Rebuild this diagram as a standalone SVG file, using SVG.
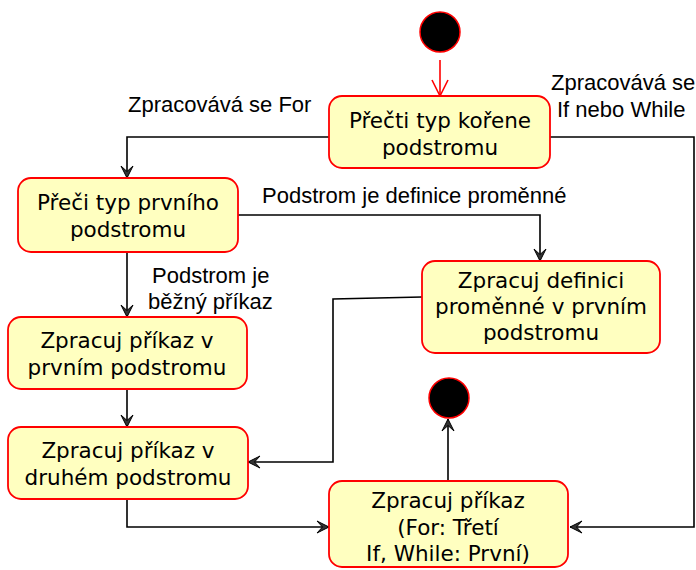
<svg xmlns="http://www.w3.org/2000/svg" width="696" height="570" viewBox="0 0 696 570">
  <style>
    .node rect { fill: #ffffc0; stroke: #ff0000; stroke-width: 1.8; }
    .node text { font-family: "DejaVu Sans", Verdana, sans-serif; font-size: 21.5px; fill: #000; text-anchor: middle; dominant-baseline: central; }
    .dot { fill: #000; stroke: #ff0000; stroke-width: 1.5; }
    .edge { fill: none; stroke: #000; stroke-width: 1.6; }
    .lbl { font-family: "Liberation Sans", Arial, sans-serif; font-size: 22px; fill: #000; dominant-baseline: central; }
  </style>
  <defs>
    <marker id="arr" markerWidth="14" markerHeight="14" viewBox="-13 -7 14 14" refX="0" refY="0" orient="auto" markerUnits="userSpaceOnUse">
      <path d="M0,0 L-12,-6 L-6.5,0 L-12,6 Z" fill="#333" stroke="#000" stroke-width="1" stroke-linejoin="miter"/>
    </marker>
    <marker id="arrRed" markerWidth="20" markerHeight="20" viewBox="-18 -10 20 20" refX="0" refY="0" orient="auto" markerUnits="userSpaceOnUse">
      <path d="M-16,-8 L0,0 L-16,8" fill="none" stroke="#ff0000" stroke-width="1.6"/>
    </marker>
  </defs>

  <!-- connectors -->
  <g id="edges">
    <line x1="440" y1="60" x2="440" y2="96" stroke="#ff0000" stroke-width="1.6" marker-end="url(#arrRed)"/>
    <polyline class="edge" points="329,137 127,137 127,178" marker-end="url(#arr)"/>
    <polyline class="edge" points="550,137 694,137 694,527 570,527" marker-end="url(#arr)"/>
    <polyline class="edge" points="238,215 540,215 540,261" marker-end="url(#arr)"/>
    <line class="edge" x1="127" y1="252" x2="127" y2="317" marker-end="url(#arr)"/>
    <polyline class="edge" points="422,297 333,299 333,462 248,462" marker-end="url(#arr)"/>
    <line class="edge" x1="127" y1="389" x2="127" y2="427" marker-end="url(#arr)"/>
    <polyline class="edge" points="127,499 127,527 329,527" marker-end="url(#arr)"/>
    <line class="edge" x1="448" y1="481" x2="448" y2="419" marker-end="url(#arr)"/>
    <text class="lbl" x="128" y="104">Zpracovává se For</text>
    <text class="lbl" x="551" y="82">Zpracovává se</text>
    <text class="lbl" x="557" y="109">If nebo While</text>
    <text class="lbl" x="262" y="195">Podstrom je definice proměnné</text>
    <text class="lbl" x="152" y="275">Podstrom je</text>
    <text class="lbl" x="148" y="301">běžný příkaz</text>
  </g>

  <g id="start">
    <circle class="dot" cx="440" cy="32" r="20"/>
  </g>

  <g id="readRoot" class="node">
    <rect x="329" y="96" width="221" height="72" rx="13"/>
    <text x="440" y="120">Přečti typ kořene</text>
    <text x="440" y="147">podstromu</text>
  </g>

  <g id="readFirst" class="node">
    <rect x="18" y="178" width="220" height="74" rx="13"/>
    <text x="128" y="202">Přeči typ prvního</text>
    <text x="128" y="229">podstromu</text>
  </g>

  <g id="varDef" class="node">
    <rect x="422" y="261" width="238" height="92" rx="13"/>
    <text x="541" y="280">Zpracuj definici</text>
    <text x="541" y="306">proměnné v prvním</text>
    <text x="541" y="332">podstromu</text>
  </g>

  <g id="cmdFirst" class="node">
    <rect x="8" y="317" width="239" height="72" rx="13"/>
    <text x="127" y="340">Zpracuj příkaz v</text>
    <text x="127" y="367">prvním podstromu</text>
  </g>

  <g id="cmdSecond" class="node">
    <rect x="8" y="427" width="240" height="72" rx="13"/>
    <text x="128" y="450">Zpracuj příkaz v</text>
    <text x="128" y="477">druhém podstromu</text>
  </g>

  <g id="cmdBody" class="node">
    <rect x="329" y="481" width="239" height="86" rx="13"/>
    <text x="448" y="500">Zpracuj příkaz</text>
    <text x="448" y="527">(For: Třetí</text>
    <text x="448" y="553">If, While: První)</text>
  </g>

  <g id="end">
    <circle class="dot" cx="449" cy="398" r="20"/>
  </g>
</svg>
